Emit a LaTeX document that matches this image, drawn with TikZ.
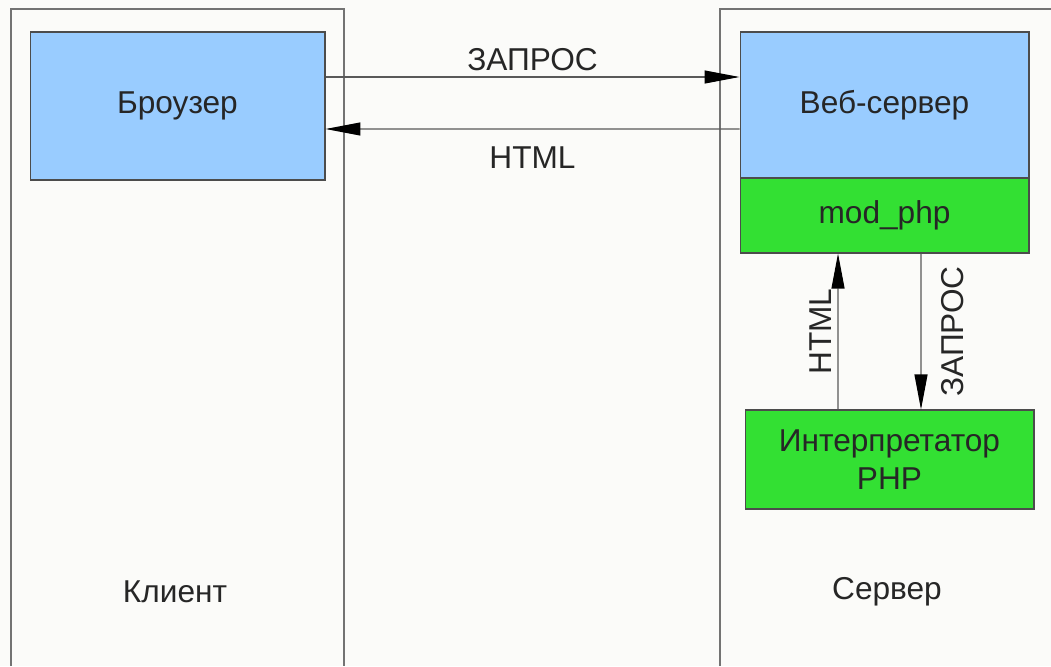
\documentclass[tikz,border=0pt]{standalone}
\usepackage{fontspec}
\setmainfont{Liberation Sans}
\usetikzlibrary{arrows.meta}
\definecolor{paneblue}{HTML}{99CCFF}
\definecolor{panegreen}{HTML}{33E033}
\definecolor{paper}{HTML}{FBFBF9}
\tikzset{
  box/.style={draw=black!70, line width=0.6pt, minimum width=5.9cm, minimum height=2.96cm, inner sep=0pt, align=center, font=\fontsize{18}{22}\selectfont, text=black!85},
  pane/.style={draw=black!55, line width=0.8pt},
  arr/.style={draw=black!65, line width=0.6pt, -{Triangle[length=0.7cm,width=0.26cm,black]}},
  lbl/.style={font=\fontsize{18}{22}\selectfont, text=black!85}
}
\begin{document}
\begin{tikzpicture}[x=0.02cm,y=-0.02cm]
    % Hintergrund und Spalten
    \fill[paper] (0,0) rectangle (1051,666);
    \useasboundingbox (0,0) rectangle (1051,666);
    \draw[pane] (11,666) -- (11,9) -- (344,9) -- (344,666);
    \draw[pane] (720,666) -- (720,9) -- (1051,9);

    % Kästen
    \node[box, fill=paneblue] (browser) at (177.5,106) {Броузер};
    \node[box, fill=paneblue, minimum width=5.78cm, minimum height=2.92cm] (webserver) at (884.5,105) {Веб-сервер};
    \node[box, fill=panegreen, minimum width=5.78cm, minimum height=1.5cm] (modphp) at (884.5,215.5) {mod\_php};
    \node[box, fill=panegreen, minimum width=5.78cm, minimum height=1.98cm] (interp) at (889.5,459.5) {Интерпретатор\\PHP};

    % Verbindungspfeile
    \draw[arr] ([yshift=0.58cm]browser.east) -- ([yshift=0.56cm]webserver.west)
        node[lbl, midway, above=0.0cm] {ЗАПРОС};
    \draw[arr] ([yshift=-0.48cm]webserver.west) -- ([yshift=-0.46cm]browser.east)
        node[lbl, midway, below=0.22cm] {HTML};
    \draw[arr] ([xshift=-1.03cm]interp.north) -- ([xshift=-0.93cm]modphp.south)
        node[lbl, midway, rotate=90, anchor=south, yshift=0.0cm] {HTML};
    \draw[arr] ([xshift=0.73cm]modphp.south) -- ([xshift=0.63cm]interp.north)
        node[lbl, midway, rotate=90, anchor=north, yshift=-0.28cm] {ЗАПРОС};

    % Spaltenbeschriftungen
    \node[lbl] (client) at (175,592) {Клиент};
    \node[lbl] (server) at (887,592) {Сервер};
\end{tikzpicture}
\end{document}
